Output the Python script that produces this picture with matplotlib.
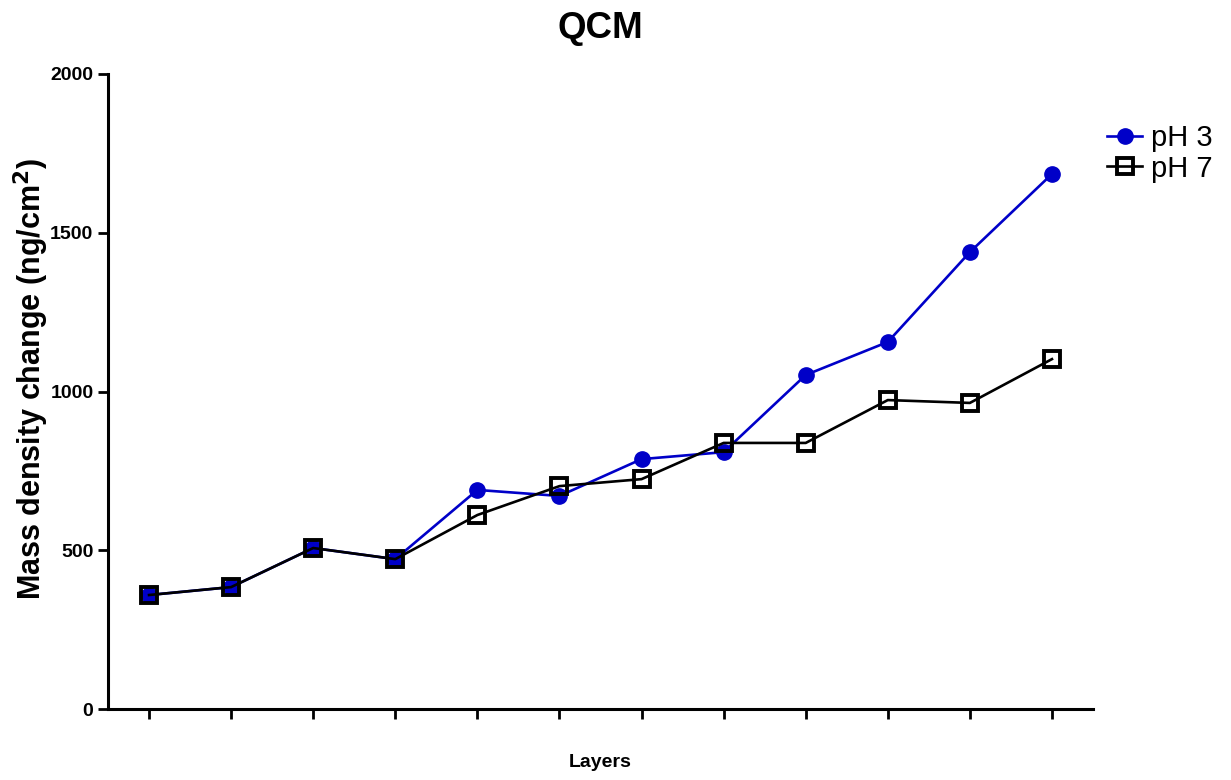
import matplotlib.pyplot as plt

plt.rcParams['font.family'] = ['Liberation Sans', 'DejaVu Sans']

layers = [1, 2, 3, 4, 5, 6, 7, 8, 9, 10, 11, 12]
ph3 = [359, 384, 507, 472, 690, 671, 787, 809, 1052, 1156, 1439, 1685]
ph7 = [359, 384, 507, 472, 611, 702, 724, 838, 838, 973, 964, 1102]

fig = plt.figure(figsize=(12.31, 7.8), dpi=100)
ax = fig.add_axes([108/1231, 1 - 709/780, (1093 - 108)/1231, (709 - 74)/780])

ax.plot(layers, ph3, color="#0000c8", lw=1.9, marker="o", ms=11,
        label="pH 3")
ax.plot(layers, ph7, color="black", lw=1.9, marker="s", ms=11,
        mfc="none", mew=2.8, label="pH 7")

ax.set_xlim(0.5, 12.5)
ax.set_ylim(0, 2000)
ax.set_xticks(layers)
ax.set_xticklabels([])
ax.set_yticks([0, 500, 1000, 1500, 2000])
for lbl in ax.get_yticklabels():
    lbl.set_fontweight("bold")
ax.tick_params(axis="y", labelsize=14, width=2, length=7, direction="out")
ax.tick_params(axis="x", width=2, length=7, direction="out")

ax.spines["top"].set_visible(False)
ax.spines["right"].set_visible(False)
ax.spines["left"].set_linewidth(2.2)
ax.spines["bottom"].set_linewidth(2.2)

ax.set_title("QCM", fontsize=26.5, fontweight="bold", pad=26)
ax.set_xlabel("Layers", fontsize=14, fontweight="bold", labelpad=22)
ax.set_ylabel("Mass density change (ng/cm$^\\mathbf{2}$)", fontsize=22,
              fontweight="bold")
ax.yaxis.set_label_coords(-0.058, 0.52)

ax.legend(loc="upper left", bbox_to_anchor=(0.988, 0.963), frameon=False,
          fontsize=21, handlelength=1.2, handletextpad=0.3, labelspacing=0.1,
          borderaxespad=0.5)

fig.savefig("out.png", dpi=100)
